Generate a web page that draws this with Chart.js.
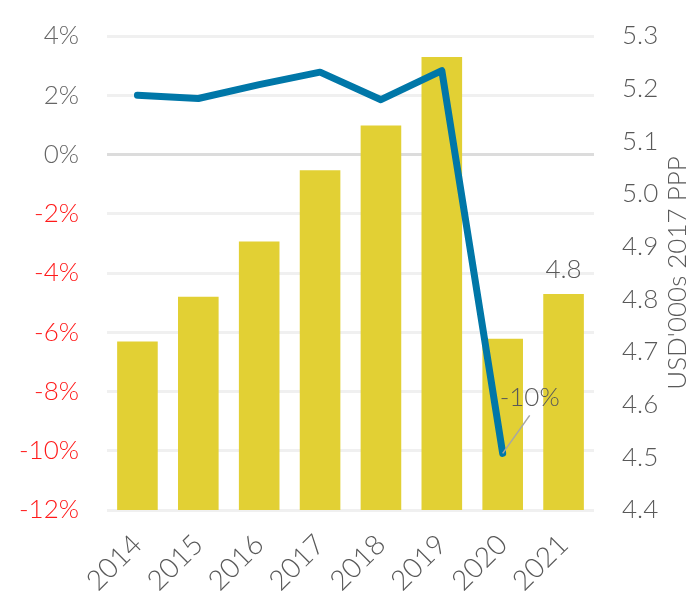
<!DOCTYPE html>
<html>
<head>
<meta charset="utf-8">
<script src="https://cdn.jsdelivr.net/npm/chart.js@4/dist/chart.umd.min.js"></script>
<style>
  body { margin: 0; background: #fff; }
  #box { width: 698px; height: 598px; }
</style>
</head>
<body>
<div id="box"><canvas id="grafico"></canvas></div>
<script>
// dados
const anos = ['2014', '2015', '2016', '2017', '2018', '2019', '2020', '2021']
const renda = [4.72, 4.805, 4.91, 5.045, 5.13, 5.26, 4.725, 4.81]   // USD'000s 2017 PPP (eixo direito)
const crescimento = [2.0, 1.89, 2.36, 2.78, 1.85, 2.83, -10.09, null] // % (eixo esquerdo)
const ticksEsquerda = [-12, -10, -8, -6, -4, -2, 0, 2, 4]
const ticksDireita = [4.4, 4.5, 4.6, 4.7, 4.8, 4.9, 5.0, 5.1, 5.2, 5.3]
const tituloDireita = "USD'000s 2017 PPP"
const rotuloBarra = { indice: 7, texto: '4.8' }
const rotuloLinha = { indice: 6, texto: '-10%' }

const fonte = { family: 'Lato', weight: '300', size: 26 }

// rotulos e titulo do eixo direito
const extras = {
  id: 'extras',
  afterDatasetsDraw(chart) {
    const ctx = chart.ctx
    ctx.save()
    ctx.font = '300 26px Lato'
    ctx.fillStyle = '#595959'
    ctx.textAlign = 'center'
    ctx.textBaseline = 'bottom'

    // 4.8 sobre a barra de 2021
    const barra = chart.getDatasetMeta(0).data[rotuloBarra.indice]
    ctx.fillText(rotuloBarra.texto, barra.x, barra.y - 11)

    // -10% com linha guia
    const ponto = chart.getDatasetMeta(1).data[rotuloLinha.indice]
    ctx.strokeStyle = '#a6a6a6'
    ctx.lineWidth = 1.5
    ctx.beginPath()
    ctx.moveTo(ponto.x, ponto.y)
    ctx.lineTo(ponto.x + 27, ponto.y - 38)
    ctx.stroke()
    ctx.textBaseline = 'middle'
    ctx.fillText(rotuloLinha.texto, ponto.x + 27, ponto.y - 56)

    // titulo do eixo direito
    const area = chart.chartArea
    ctx.translate(678, (area.top + area.bottom) / 2)
    ctx.rotate(-Math.PI / 2)
    ctx.textBaseline = 'middle'
    ctx.fillText(tituloDireita, 0, 0)
    ctx.restore()
  }
}

const semSobra = s => { s.paddingTop = 0; s.paddingBottom = 0 }

const graficoRenda = new Chart(document.getElementById('grafico'), {
  data: {
    labels: anos,
    datasets: [{
      type: 'bar',
      label: 'Renda',
      data: renda,
      yAxisID: 'y1',
      backgroundColor: '#e2d034',
      categoryPercentage: 1,
      barPercentage: 0.667,
      order: 2
    }, {
      type: 'line',
      label: 'Crescimento',
      data: crescimento,
      yAxisID: 'y',
      borderColor: '#0077a8',
      borderWidth: 7,
      borderCapStyle: 'round',
      borderJoinStyle: 'round',
      pointRadius: 0,
      tension: 0,
      order: 1
    }]
  },
  options: {
    responsive: true,
    maintainAspectRatio: false,
    animation: false,
    layout: { padding: { top: 36, left: 0, right: 0, bottom: 0 } },
    plugins: { legend: { display: false }, tooltip: { enabled: false } },
    scales: {
      x: {
        grid: { display: false },
        border: { display: false },
        ticks: { font: { family: 'Lato', weight: '300', size: 28 }, color: '#595959', minRotation: 45, maxRotation: 45, padding: 10 },
        afterFit: s => { s.height = 88 }
      },
      y: {
        position: 'left',
        min: -12, max: 4,
        afterBuildTicks: s => { s.ticks = ticksEsquerda.map(v => ({ value: v })) },
        grid: {
          drawTicks: false,
          lineWidth: 3,
          color: c => c.tick && c.tick.value === 0 ? '#dcdcdc' : '#f0f0f0'
        },
        border: { display: false },
        ticks: {
          font: fonte,
          padding: 28,
          color: c => c.tick.value < 0 ? '#ff1a1a' : '#666666',
          callback: v => v + '%'
        },
        afterFit: s => { s.width = 107; semSobra(s) }
      },
      y1: {
        position: 'right',
        min: 4.4, max: 5.3,
        afterBuildTicks: s => { s.ticks = ticksDireita.map(v => ({ value: v })) },
        grid: { display: false, drawTicks: false },
        border: { display: false },
        ticks: { font: fonte, padding: 28, color: '#595959', callback: v => v.toFixed(1) },
        afterFit: s => { s.width = 104; semSobra(s) }
      }
    }
  },
  plugins: [extras]
})
</script>
</body>
</html>
